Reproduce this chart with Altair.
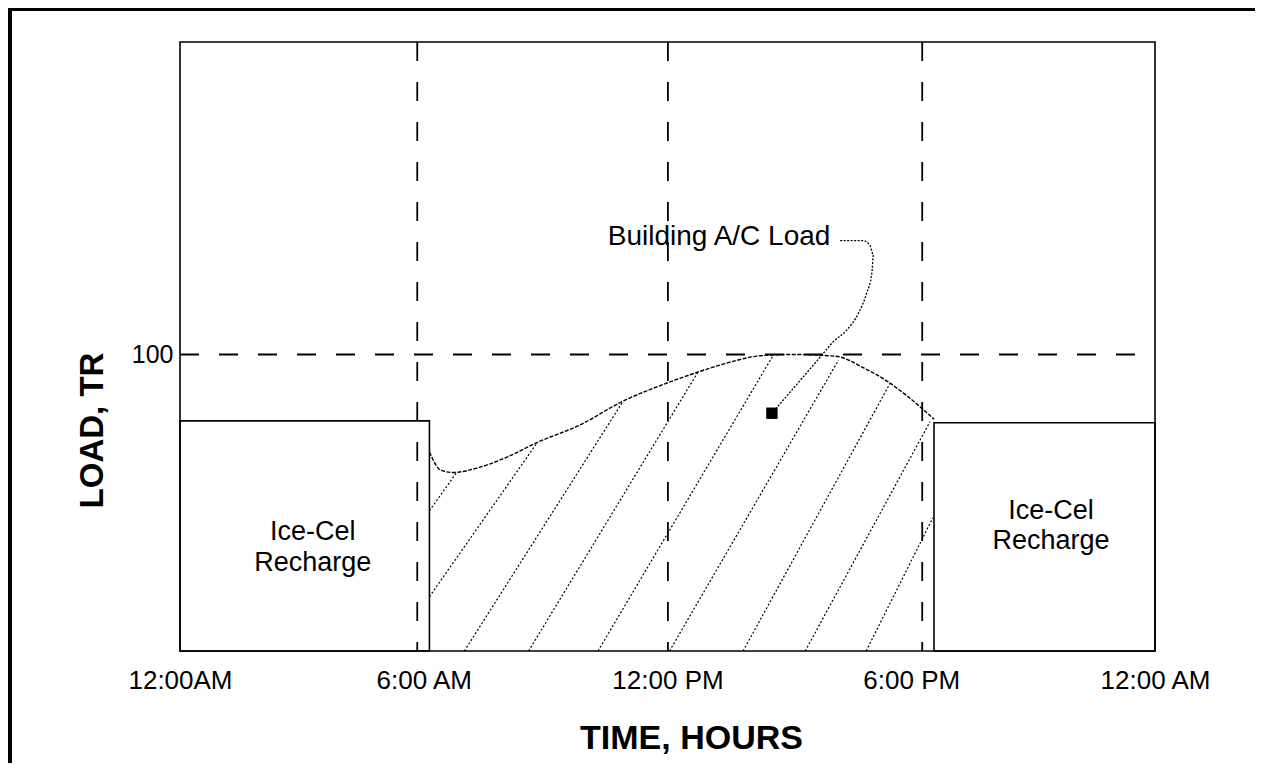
import altair as alt
import pandas as pd

# ---------------- data ----------------
hours = [0, 6, 12, 18, 24]
tick_labels = ["12:00AM", "6:00 AM", "12:00 PM", "6:00 PM", "12:00 AM"]

# Building A/C load curve (hour, TR)
curve_x = [6.14, 6.43, 6.73, 7.31, 8.05, 8.80, 9.81, 10.91, 12.01, 12.80,
           13.33, 14.38, 15.09, 16.14, 16.84, 17.46, 17.90, 18.56]
curve_y = [67.1, 60.9, 60.2, 61.7, 65.4, 70.4, 76.0, 84.3, 90.5, 94.3,
           96.6, 99.7, 100.0, 99.4, 95.4, 90.5, 86.0, 78.2]

# Ice-Cel recharge blocks
recharge_x = [0, 18.56]
recharge_x2 = [6.14, 24]
recharge_top = [77.6, 77.0]

# hatch lines under the load curve
hatch_x = [6.14, 6.14, 7.00, 8.58, 10.29, 12.05, 13.86, 15.39, 16.89]
hatch_y = [47.3, 18.3, 0, 0, 0, 0, 0, 0, 0]
hatch_x2 = [6.82, 8.80, 10.91, 12.76, 14.60, 16.21, 17.48, 18.46, 18.53]
hatch_y2 = [60.4, 70.4, 84.3, 94.3, 99.7, 98.1, 90.3, 77.3, 44.9]

# dashed guide lines
guide_hours = [5.84, 12.01, 18.27]
guide_load = [100]

# leader line for the annotation
leader_x = [16.25, 16.82, 16.98, 17.07, 17.03, 16.90, 16.70, 16.41, 16.08, 15.80, 14.57]
leader_y = [138.4, 138.4, 136.9, 133.6, 127.4, 120.6, 113.9, 108.2, 104.3, 99.8, 80.2]
marker_x = [14.57]
marker_y = [80.2]

note_x = [13.27]
note_y = [139.7]
note_text = ["Building A/C Load"]

block_label_x = [3.27, 3.27, 21.44, 21.44]
block_label_y = [40.1, 29.7, 47.2, 37.1]
block_label_text = ["Ice-Cel", "Recharge", "Ice-Cel", "Recharge"]

Y_MAX = 205.4
FONT = "Liberation Sans"
W, H = 975, 609

# ---------------- chart ----------------
xs = alt.Scale(domain=[0, 24], nice=False, zero=False)
ys = alt.Scale(domain=[0, Y_MAX], nice=False)

label_expr = "[" + ",".join("'%s'" % t for t in tick_labels) + "][round(datum.value / 6)]"

x_axis = alt.Axis(values=hours, labelExpr=label_expr, ticks=False, tickSize=0,
                  domain=False, grid=False, labelFontSize=26, labelFont=FONT,
                  labelColor="black", labelPadding=16, labelFlush=False,
                  labelOverlap=False, labelBound=False,
                  title="TIME, HOURS", titleFont=FONT, titleFontSize=34,
                  titleFontWeight="bold", titleColor="black",
                  titleX=511, titleY=87, titleAlign="center", titleBaseline="middle",
                  titleAnchor="start")
y_axis = alt.Axis(values=guide_load, ticks=False, tickSize=0, domain=False, grid=False,
                  labelFontSize=25, labelFont=FONT, labelColor="black", labelPadding=7,
                  labelFlush=False,
                  title="LOAD, TR", titleFont=FONT, titleFontSize=33,
                  titleFontWeight="bold", titleColor="black",
                  titleX=-88, titleY=388, titleAlign="center", titleBaseline="middle",
                  titleAngle=270, titleAnchor="start")

rect_df = pd.DataFrame({"x": recharge_x, "x2": recharge_x2,
                        "y": [0, 0], "y2": recharge_top})
blocks = alt.Chart(rect_df).mark_rect(fillOpacity=0, stroke="black", strokeWidth=1.6).encode(
    x=alt.X("x:Q", scale=xs, axis=x_axis), x2="x2:Q",
    y=alt.Y("y:Q", scale=ys, axis=y_axis), y2="y2:Q")

hatch_df = pd.DataFrame({"x": hatch_x, "y": hatch_y, "x2": hatch_x2, "y2": hatch_y2})
hatch = alt.Chart(hatch_df).mark_rule(color="black", strokeWidth=1.2, strokeDash=[2, 2]).encode(
    x=alt.X("x:Q", scale=xs), y=alt.Y("y:Q", scale=ys), x2="x2:Q", y2="y2:Q")

curve_df = pd.DataFrame({"x": curve_x, "y": curve_y, "o": list(range(len(curve_x)))})
curve = alt.Chart(curve_df).mark_line(color="black", strokeWidth=1.4, strokeDash=[4, 1.5],
                                      interpolate="monotone").encode(
    x=alt.X("x:Q", scale=xs), y=alt.Y("y:Q", scale=ys), order="o:Q")

vdf = pd.DataFrame({"x": guide_hours})
vguides = alt.Chart(vdf).mark_rule(color="black", strokeWidth=1.8, strokeDash=[19, 21]).encode(
    x=alt.X("x:Q", scale=xs), y=alt.value(0), y2=alt.value(H))

hdf = pd.DataFrame({"y": guide_load})
hguide = alt.Chart(hdf).mark_rule(color="black", strokeWidth=1.8, strokeDash=[19, 20]).encode(
    y=alt.Y("y:Q", scale=ys), x=alt.value(0), x2=alt.value(W))

leader_df = pd.DataFrame({"x": leader_x, "y": leader_y, "o": list(range(len(leader_x)))})
leader = alt.Chart(leader_df).mark_line(color="black", strokeWidth=1.3, strokeDash=[2, 1.5],
                                        interpolate="monotone").encode(
    x=alt.X("x:Q", scale=xs), y=alt.Y("y:Q", scale=ys), order="o:Q")

marker_df = pd.DataFrame({"x": marker_x, "y": marker_y})
marker = alt.Chart(marker_df).mark_square(size=130, color="black", opacity=1).encode(
    x=alt.X("x:Q", scale=xs), y=alt.Y("y:Q", scale=ys))

note_df = pd.DataFrame({"x": note_x, "y": note_y, "t": note_text})
note = alt.Chart(note_df).mark_text(font=FONT, fontSize=28, color="black",
                                    align="center", baseline="middle").encode(
    x=alt.X("x:Q", scale=xs), y=alt.Y("y:Q", scale=ys), text="t:N")

bl_df = pd.DataFrame({"x": block_label_x, "y": block_label_y, "t": block_label_text})
block_labels = alt.Chart(bl_df).mark_text(font=FONT, fontSize=27, color="black",
                                          align="center", baseline="middle").encode(
    x=alt.X("x:Q", scale=xs), y=alt.Y("y:Q", scale=ys), text="t:N")

one = pd.DataFrame({"k": [0]})
border_top = alt.Chart(one).mark_rule(color="black", strokeWidth=5).encode(
    x=alt.value(-172), x2=alt.value(W + 100), y=alt.value(-33.5))
border_left = alt.Chart(one).mark_rule(color="black", strokeWidth=5).encode(
    x=alt.value(-170.5), y=alt.value(-34), y2=alt.value(H + 112))

chart = alt.layer(
    blocks, hatch, curve, vguides, hguide, leader, marker, note, block_labels,
    border_top, border_left
).properties(
    width=W, height=H,
    background="white",
    autosize=alt.AutoSizeParams(type="none"),
    padding={"left": 172, "top": 34, "right": 100, "bottom": 112},
).configure_view(
    stroke="black", strokeWidth=1.6, strokeOpacity=1
)

chart.save("out.html", embed_options={"renderer": "svg", "actions": False})
